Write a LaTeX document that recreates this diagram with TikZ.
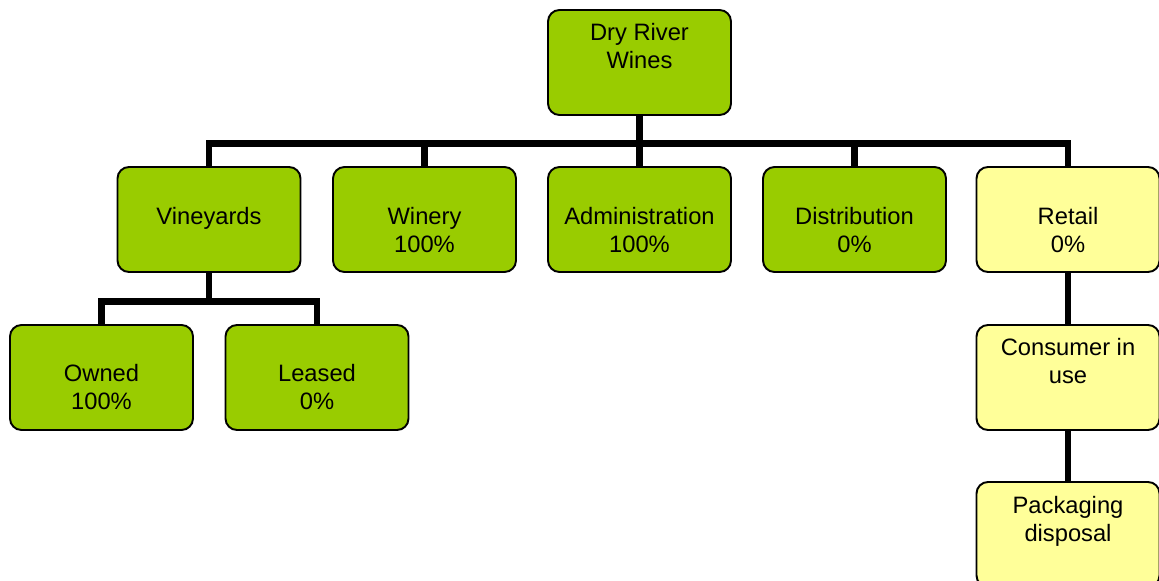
\documentclass[tikz,border=0pt]{standalone}
\usepackage{fontspec}
\setmainfont{Liberation Sans}
\usetikzlibrary{positioning}
\definecolor{leaf}{HTML}{99CC00}
\definecolor{cream}{HTML}{FFFF99}

\begin{document}
\begin{tikzpicture}[x=0.02cm,y=-0.02cm,
  unit/.style={draw=black,line width=1.1pt,rounded corners=6.5pt,fill=leaf,
    minimum width=3.66cm,minimum height=2.1cm,inner sep=0},
  shop/.style={unit,fill=cream},
  caption/.style={align=center,inner sep=0,font=\fontsize{13.5}{15.9}\selectfont},
  link/.style={line width=3.7pt}]
\useasboundingbox (0,0) rectangle (1159,581);

% boxes
\node (root) at (639.5,62.5) [unit] {};
\node (vine) at (209,219.5) [unit] {};
\node (winery) at (424.5,219.5) [unit] {};
\node (admin) at (639.5,219.5) [unit] {};
\node (distrib) at (854.5,219.5) [unit] {};
\node (retail) at (1068,219.5) [shop] {};
\node (owned) at (101.5,377.5) [unit] {};
\node (leased) at (317,377.5) [unit] {};
\node (consumer) at (1068,377.5) [shop] {};
\node (disposal) at (1068,534.5) [shop] {};

% connectors
\coordinate (bar) at (0,143.5);
\coordinate (subbar) at (0,301.5);
\draw [link] (root.south) -- (root.south |- bar);
\draw [link] (vine.north) -- (vine.north |- bar) -- (retail.north |- bar) -- (retail.north);
\draw [link] (winery.north) -- (winery.north |- bar);
\draw [link] (admin.north) -- (admin.north |- bar);
\draw [link] (distrib.north) -- (distrib.north |- bar);
\draw [link] (vine.south) -- (vine.south |- subbar);
\draw [link] (owned.north) -- (owned.north |- subbar) -- (leased.north |- subbar) -- (leased.north);
\draw [link] (retail.south) -- (consumer.north);
\draw [link] (consumer.south) -- (disposal.north);

% texts
\node (root-t) [caption,below=8pt of root.north] {Dry River\\Wines};
\node (vine-t) [caption,below=23.2pt of vine.north] {Vineyards};
\node (winery-t) [caption,below=23.2pt of winery.north] {Winery\\100\%};
\node (admin-t) [caption,below=23.2pt of admin.north] {Administration\\100\%};
\node (distrib-t) [caption,below=23.2pt of distrib.north] {Distribution\\0\%};
\node (retail-t) [caption,below=23.2pt of retail.north] {Retail\\0\%};
\node (owned-t) [caption,below=23pt of owned.north] {Owned\\100\%};
\node (leased-t) [caption,below=23pt of leased.north] {Leased\\0\%};
\node (consumer-t) [caption,below=8pt of consumer.north] {Consumer in\\use};
\node (disposal-t) [caption,below=8.3pt of disposal.north] {Packaging\\disposal};

\end{tikzpicture}
\end{document}
